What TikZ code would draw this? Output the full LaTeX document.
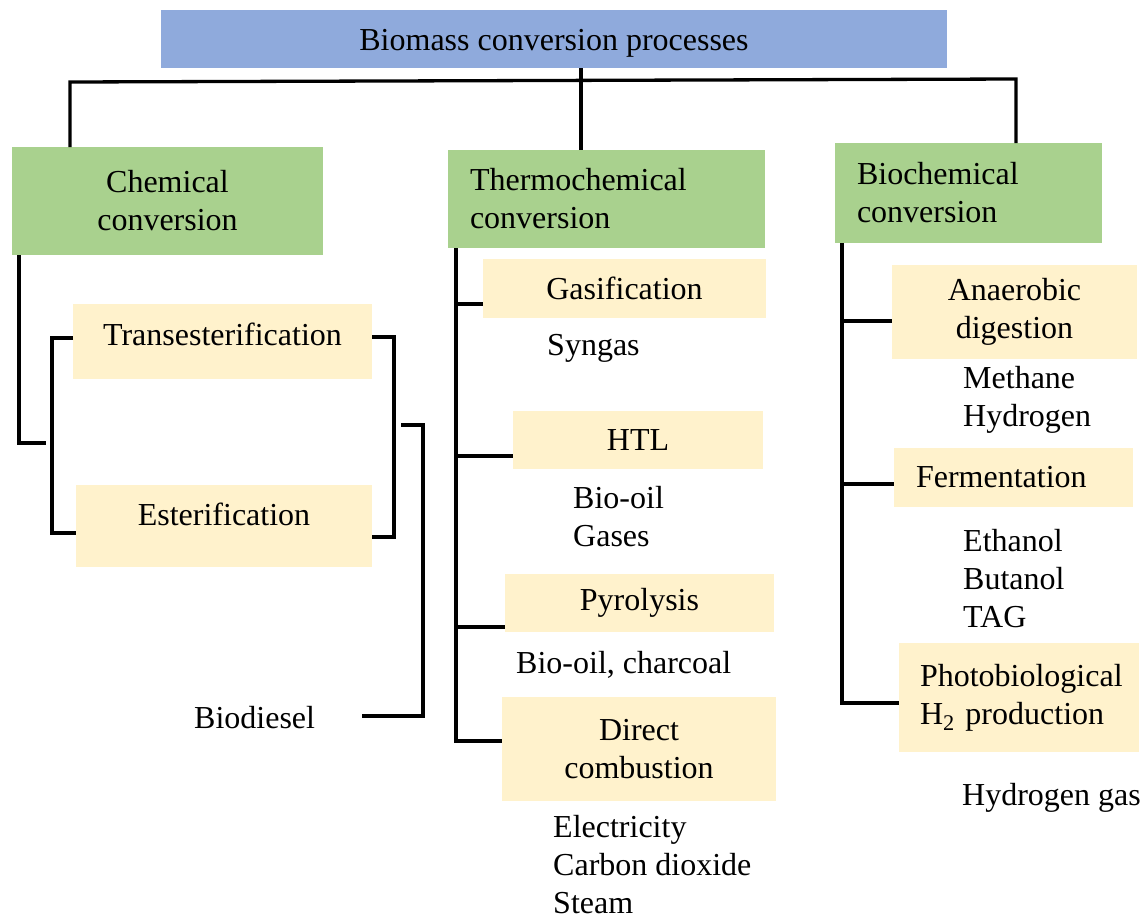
\documentclass[tikz,border=0pt]{standalone}
\usepackage{fontspec}
\setmainfont{Liberation Serif}
\definecolor{boxblue}{HTML}{8FAADC}
\definecolor{boxgreen}{HTML}{A9D18E}
\definecolor{boxyellow}{HTML}{FFF2CC}
\tikzset{
  every node/.style={font=\fontsize{32}{38}\selectfont},
  conn/.style={line width=3.3pt, black, line join=miter},
  bbox/.style={fill=boxblue, inner sep=0pt, outer sep=0pt, anchor=north west, align=center},
  gbox/.style={fill=boxgreen, inner sep=0pt, outer sep=0pt, anchor=north west, align=center},
  ybox/.style={fill=boxyellow, inner sep=0pt, outer sep=0pt, anchor=north west, align=center},
  leftbox/.style={align=left, inner xsep=22pt, text width=#1},
  outtxt/.style={anchor=base west, align=left, inner sep=0pt},
}
\begin{document}
\begin{tikzpicture}[x=1pt, y=-1pt]
\useasboundingbox (0,0) rectangle (1142,919);

% boxes
\node[bbox, minimum width=786pt, minimum height=58pt, text height=30pt] (top) at (161,10) {Biomass conversion processes};
\node[gbox, minimum width=311pt, minimum height=108pt] (chem) at (12,147) {Chemical\\conversion};
\node[gbox, leftbox=273pt, minimum height=98pt] (thermo) at (448,150) {Thermochemical\\conversion};
\node[gbox, leftbox=223pt, minimum height=100pt] (bio) at (835,143) {Biochemical\\conversion};

\node[ybox, minimum width=299pt, minimum height=75pt, text depth=15pt] (trans) at (73,304) {Transesterification};
\node[ybox, minimum width=296pt, minimum height=82pt, text depth=23pt] (ester) at (76,485) {Esterification};

\node[ybox, minimum width=283pt, minimum height=59pt] (gas) at (483,259) {Gasification};
\node[ybox, minimum width=250pt, minimum height=58pt] (htl) at (513,411) {HTL};
\node[ybox, minimum width=269pt, minimum height=58pt] (pyro) at (505,574) {Pyrolysis};
\node[ybox, minimum width=274pt, minimum height=104pt] (direct) at (502,697) {Direct\\combustion};

\node[ybox, minimum width=245pt, minimum height=94pt] (anaer) at (892,265) {Anaerobic\\digestion};
\node[ybox, leftbox=195pt, minimum height=59pt] (ferm) at (894,448) {Fermentation};
\node[ybox, leftbox=198pt, inner xsep=21pt, minimum height=109pt] (photo) at (899,643) {Photobiological\\H\textsubscript{2} production};

% output texts (base anchor = baseline of last line)
\node[outtxt] (biod) at (194,728) {Biodiesel};
\node[outtxt] (syn) at (547,355) {Syngas};
\node[outtxt] (htlout) at (573,546) {Bio-oil\\Gases};
\node[outtxt] (pyout) at (516,673) {Bio-oil, charcoal};
\node[outtxt] (dirout) at (553,913) {Electricity\\Carbon dioxide\\Steam};
\node[outtxt] (anout) at (963,426) {Methane\\Hydrogen};
\node[outtxt] (feout) at (963,627) {Ethanol\\Butanol\\TAG};
\node[outtxt] (phout) at (962,805) {Hydrogen gas};

% main tree
\coordinate (xL) at (70,82);
\coordinate (xM) at (581,81);
\coordinate (xR) at (1016,79);
\draw[conn] (xL |- chem.north) -- (xL) -- (xR) -- (xR |- bio.north);
\draw[conn] (top.south -| xM) -- (xM |- thermo.north);

% chemical branch
\coordinate (c1) at (19,443);
\coordinate (c2) at (46,443);
\draw[conn] (chem.south -| c1) -- (c1) -- (c2);
\coordinate (b1) at (52,338);
\coordinate (b2) at (52,533);
\draw[conn] (trans.west |- b1) -- (b1) -- (b2) -- (ester.west |- b2);
\coordinate (b3) at (394,337);
\coordinate (b4) at (394,537);
\draw[conn] (trans.east |- b3) -- (b3) -- (b4) -- (ester.east |- b4);
\coordinate (b5) at (401,425);
\coordinate (b6) at (423,425);
\coordinate (b7) at (423,716);
\coordinate (b8) at (362,716);
\draw[conn] (b5) -- (b6) -- (b7) -- (b8);

% thermochemical branch
\coordinate (tb) at (456,741);
\draw[conn] (thermo.south -| tb) -- (tb) -- (tb -| direct.west);
\coordinate (tg) at (456,304);
\coordinate (th) at (456,456);
\coordinate (tp) at (456,627);
\draw[conn] (tg) -- (tg -| gas.west);
\draw[conn] (th) -- (th -| htl.west);
\draw[conn] (tp) -- (tp -| pyro.west);

% biochemical branch
\coordinate (rb) at (842,703);
\draw[conn] (bio.south -| rb) -- (rb) -- (rb -| photo.west);
\coordinate (ra) at (842,321);
\coordinate (rf) at (842,484);
\draw[conn] (ra) -- (ra -| anaer.west);
\draw[conn] (rf) -- (rf -| ferm.west);
\end{tikzpicture}
\end{document}
